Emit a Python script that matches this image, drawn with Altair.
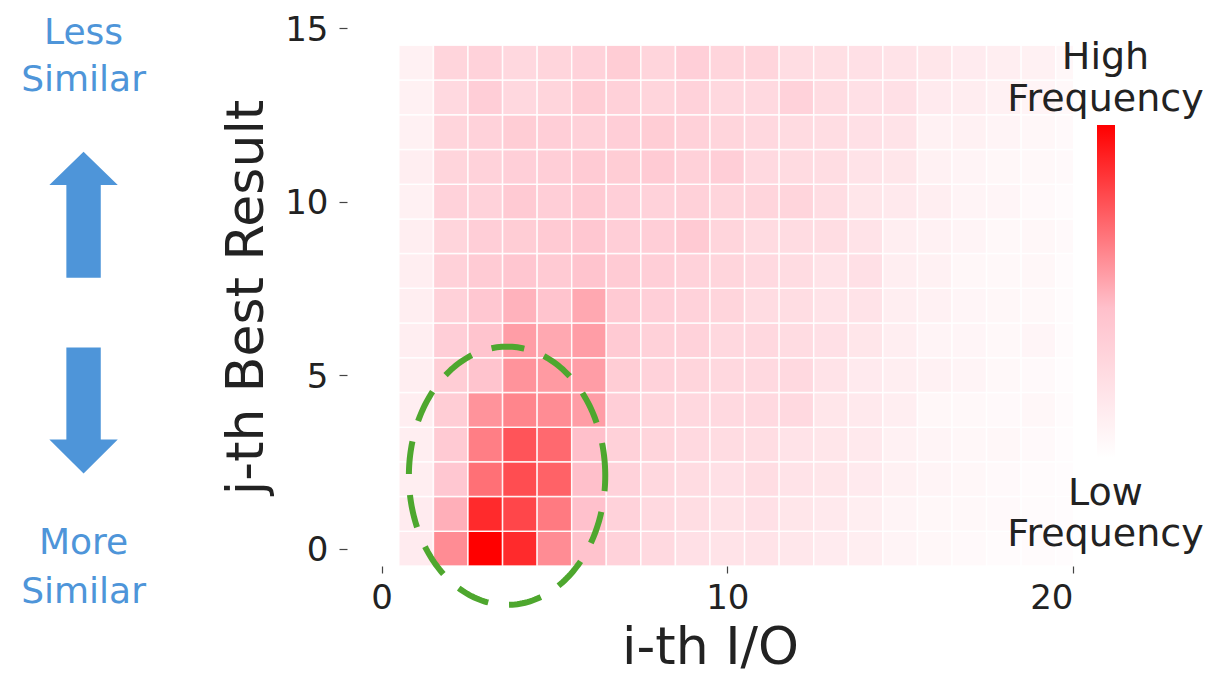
import altair as alt
import numpy as np
import pandas as pd

# ---------------- data ----------------
i_cols = list(range(1, 21))      # i-th I/O (columns)
j_rows = list(range(0, 15))      # j-th best result (rows)

# normalised frequency, one list per row j (columns i = 1..20)
j0 = [0.14, 0.60, 1.00, 0.88, 0.60, 0.43, 0.32, 0.27, 0.22, 0.20, 0.20, 0.17, 0.14, 0.12, 0.08, 0.06, 0.04, 0.03, 0.03, 0.02]
j1 = [0.14, 0.50, 0.88, 0.80, 0.65, 0.44, 0.32, 0.27, 0.24, 0.21, 0.22, 0.18, 0.16, 0.12, 0.08, 0.06, 0.05, 0.04, 0.03, 0.02]
j2 = [0.12, 0.40, 0.68, 0.78, 0.72, 0.45, 0.32, 0.28, 0.25, 0.22, 0.24, 0.20, 0.18, 0.15, 0.10, 0.08, 0.06, 0.04, 0.03, 0.02]
j3 = [0.12, 0.38, 0.64, 0.76, 0.70, 0.45, 0.33, 0.30, 0.27, 0.25, 0.24, 0.20, 0.18, 0.16, 0.10, 0.08, 0.06, 0.06, 0.04, 0.02]
j4 = [0.12, 0.36, 0.58, 0.62, 0.60, 0.55, 0.35, 0.30, 0.28, 0.27, 0.27, 0.27, 0.18, 0.16, 0.12, 0.06, 0.05, 0.04, 0.06, 0.03]
j5 = [0.12, 0.36, 0.42, 0.58, 0.56, 0.55, 0.36, 0.32, 0.30, 0.28, 0.27, 0.27, 0.20, 0.15, 0.12, 0.10, 0.08, 0.05, 0.04, 0.02]
j6 = [0.12, 0.35, 0.42, 0.55, 0.52, 0.55, 0.38, 0.33, 0.32, 0.28, 0.28, 0.25, 0.22, 0.18, 0.12, 0.08, 0.07, 0.05, 0.07, 0.03]
j7 = [0.12, 0.33, 0.40, 0.49, 0.42, 0.52, 0.38, 0.34, 0.32, 0.30, 0.25, 0.24, 0.20, 0.20, 0.12, 0.10, 0.07, 0.06, 0.05, 0.03]
j8 = [0.12, 0.33, 0.37, 0.41, 0.38, 0.42, 0.37, 0.35, 0.32, 0.30, 0.27, 0.25, 0.20, 0.22, 0.12, 0.10, 0.06, 0.05, 0.06, 0.03]
j9 = [0.12, 0.30, 0.35, 0.36, 0.38, 0.40, 0.35, 0.35, 0.38, 0.30, 0.26, 0.25, 0.24, 0.20, 0.12, 0.10, 0.08, 0.05, 0.06, 0.04]
j10 = [0.10, 0.32, 0.32, 0.38, 0.35, 0.38, 0.34, 0.32, 0.33, 0.30, 0.30, 0.30, 0.24, 0.18, 0.16, 0.12, 0.08, 0.07, 0.04, 0.03]
j11 = [0.12, 0.30, 0.32, 0.34, 0.35, 0.37, 0.36, 0.37, 0.33, 0.35, 0.27, 0.26, 0.24, 0.20, 0.18, 0.10, 0.08, 0.06, 0.05, 0.04]
j12 = [0.10, 0.30, 0.32, 0.36, 0.35, 0.33, 0.35, 0.36, 0.33, 0.30, 0.28, 0.26, 0.24, 0.22, 0.20, 0.10, 0.10, 0.08, 0.06, 0.04]
j13 = [0.10, 0.27, 0.35, 0.28, 0.30, 0.36, 0.33, 0.30, 0.32, 0.28, 0.27, 0.32, 0.25, 0.22, 0.22, 0.15, 0.13, 0.10, 0.08, 0.05]
j14 = [0.10, 0.30, 0.32, 0.28, 0.30, 0.32, 0.36, 0.30, 0.34, 0.30, 0.30, 0.24, 0.23, 0.22, 0.20, 0.18, 0.14, 0.12, 0.10, 0.06]
freq_rows = [j0, j1, j2, j3, j4, j5, j6, j7, j8, j9, j10, j11, j12, j13, j14]

x_ticks = [0, 10, 20]
y_ticks = [0, 5, 10, 15]

# annotations (data units)
side_text = ["Less", "Similar", "More", "Similar"]
side_text_y = [14.87, 13.49, 0.15, -1.26]
side_x = -8.62
arrow_up_y = 9.62
arrow_down_y = 3.98
cbar_text = ["High", "Frequency", "Low", "Frequency"]
cbar_text_y = [14.15, 12.92, 1.56, 0.38]
cbar_x = 20.94
ellipse_center = (3.63, 2.10)
ellipse_radii = (2.84, 3.72)

BLUE = "#4e95d9"
GREEN = "#4ea72e"
INK = "#222222"

# ---------------- tables ----------------
heat_df = pd.DataFrame(
    [{"i": c, "j": r, "freq": freq_rows[r][k]} for r in j_rows for k, c in enumerate(i_cols)]
)

t = np.linspace(0, 2 * np.pi, 241)
ell_df = pd.DataFrame({
    "k": np.arange(len(t)),
    "px": ellipse_center[0] + ellipse_radii[0] * np.cos(t),
    "py": ellipse_center[1] + ellipse_radii[1] * np.sin(t),
})
side_df = pd.DataFrame({"label": side_text, "px": side_x, "py": side_text_y})
cbar_df = pd.DataFrame({"label": cbar_text, "px": cbar_x, "py": cbar_text_y})
up_df = pd.DataFrame({"px": [side_x], "py": [arrow_up_y]})
down_df = pd.DataFrame({"px": [side_x], "py": [arrow_down_y]})

xs = alt.Scale(domain=[-1, 20], nice=False, zero=False)
ys = alt.Scale(domain=[-0.5, 15], nice=False, zero=False)

x_axis = alt.Axis(values=x_ticks, title="i-th I/O", tickSize=7, labelPadding=8, titlePadding=7)
y_axis = alt.Axis(values=y_ticks, title="j-th Best Result", tickSize=8, labelPadding=11,
                  titlePadding=11, labelOffset=2)


def X(field):
    return alt.X(field, scale=xs, axis=x_axis)


def Y(field):
    return alt.Y(field, scale=ys, axis=y_axis)


heat = alt.Chart(heat_df).transform_calculate(
    x0="datum.i - 0.5", x1="datum.i + 0.5", y0="datum.j - 0.5", y1="datum.j + 0.5"
).mark_rect(stroke="white", strokeWidth=1.5, strokeOpacity=0.85, clip=True).encode(
    x=X("x0:Q"),
    x2="x1:Q",
    y=Y("y0:Q"),
    y2="y1:Q",
    color=alt.Color(
        "freq:Q",
        scale=alt.Scale(domain=[0, 0.45, 1], range=["#ffffff", "#ffc0cb", "#ff0000"],
                        interpolate="rgb"),
        legend=alt.Legend(
            orient="none", legendX=750, legendY=97, direction="vertical",
            gradientLength=333, gradientThickness=18, title=None,
            labelOpacity=0, labelFontSize=1, gradientStrokeWidth=0, padding=0,
        ),
    ),
)

ellipse = alt.Chart(ell_df).mark_line(
    color=GREEN, strokeWidth=6, strokeDash=[33, 21], strokeCap="butt"
).encode(x=X("px:Q"), y=Y("py:Q"), order="k:Q")

side = alt.Chart(side_df).mark_text(
    font="DejaVu Sans", fontSize=36, color=BLUE, align="center", baseline="middle"
).encode(x=X("px:Q"), y=Y("py:Q"), text="label:N")

up_path = "M0,-1L0.543,-0.471L0.273,-0.471L0.273,1L-0.273,1L-0.273,-0.471L-0.543,-0.471Z"
down_path = "M0,1L0.543,0.46L0.273,0.46L0.273,-1L-0.273,-1L-0.273,0.46L-0.543,0.46Z"

arrow_up = alt.Chart(up_df).mark_point(
    shape=up_path, size=15876, filled=True, color=BLUE, opacity=1, strokeWidth=0
).encode(x=X("px:Q"), y=Y("py:Q"))

arrow_down = alt.Chart(down_df).mark_point(
    shape=down_path, size=15876, filled=True, color=BLUE, opacity=1, strokeWidth=0
).encode(x=X("px:Q"), y=Y("py:Q"))

cbar_labels = alt.Chart(cbar_df).mark_text(
    font="DejaVu Sans", fontSize=38, color=INK, align="center", baseline="middle"
).encode(x=X("px:Q"), y=Y("py:Q"), text="label:N")

chart = alt.layer(heat, ellipse, side, arrow_up, arrow_down, cbar_labels).properties(
    width=726, height=538,
    autosize=alt.AutoSizeParams(type="none"),
    padding={"left": 339, "top": 20, "right": 130, "bottom": 108},
).configure_view(strokeWidth=0).configure_axis(
    domain=False, grid=False,
    labelFont="DejaVu Sans", labelFontSize=34, labelColor=INK,
    titleFont="DejaVu Sans", titleFontSize=52, titleFontWeight="normal", titleColor=INK,
    tickColor="#444444", tickWidth=1.2,
)

chart.save("out.html", embed_options={"renderer": "svg", "actions": False})
